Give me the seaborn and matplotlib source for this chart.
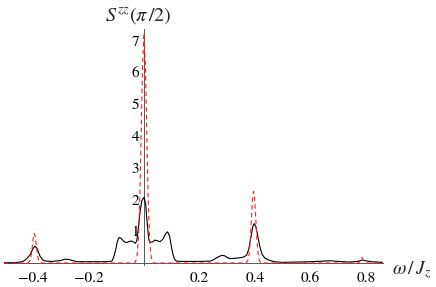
import numpy as np
import pandas as pd
import seaborn as sns
import matplotlib
matplotlib.use("Agg")
import matplotlib.pyplot as plt
from matplotlib.ticker import MultipleLocator, FixedLocator, FuncFormatter

# ---- data ----
black_x = [-0.505, -0.465, -0.44, -0.43, -0.42, -0.41, -0.40, -0.393, -0.385, -0.375,
           -0.365, -0.355, -0.33, -0.30, -0.285, -0.27, -0.255, -0.24, -0.20, -0.15,
           -0.12, -0.114, -0.108, -0.102, -0.096, -0.09, -0.083, -0.075, -0.068, -0.06,
           -0.052, -0.045, -0.038, -0.031, -0.026, -0.021, -0.015, -0.008, 0.0, 0.006,
           0.012, 0.017, 0.021, 0.03, 0.039, 0.048, 0.058, 0.068, 0.078, 0.085,
           0.092, 0.098, 0.104, 0.11, 0.117, 0.13, 0.20, 0.238, 0.25, 0.265,
           0.28, 0.29, 0.30, 0.31, 0.33, 0.35, 0.36, 0.37, 0.378, 0.385,
           0.392, 0.397, 0.403, 0.41, 0.418, 0.425, 0.435, 0.45, 0.47, 0.50,
           0.55, 0.60, 0.65, 0.67, 0.70, 0.74, 0.77, 0.785, 0.80, 0.82, 0.86]
black_y = [0.01, 0.01, 0.04, 0.08, 0.16, 0.27, 0.45, 0.53, 0.45, 0.22,
           0.10, 0.06, 0.05, 0.08, 0.12, 0.11, 0.07, 0.04, 0.04, 0.04,
           0.05, 0.08, 0.22, 0.42, 0.68, 0.80, 0.78, 0.70, 0.65, 0.65,
           0.68, 0.69, 0.66, 0.62, 0.70, 1.05, 1.55, 1.95, 2.07, 1.85,
           1.20, 0.75, 0.65, 0.66, 0.72, 0.70, 0.67, 0.75, 0.92, 0.98,
           0.85, 0.55, 0.28, 0.12, 0.06, 0.05, 0.05, 0.06, 0.10, 0.18,
           0.24, 0.23, 0.17, 0.14, 0.15, 0.17, 0.19, 0.25, 0.45, 0.80,
           1.15, 1.24, 1.15, 0.85, 0.50, 0.28, 0.16, 0.09, 0.04, 0.02,
           0.03, 0.04, 0.06, 0.07, 0.05, 0.03, 0.05, 0.09, 0.07, 0.04, 0.02]

red_x = [-0.505, -0.417, -0.411, -0.407, -0.403, -0.399, -0.395, -0.391, -0.387, -0.383,
         -0.379, -0.373, -0.035, -0.03, -0.025, -0.02, -0.015, -0.01, -0.005, 0.0,
         0.005, 0.01, 0.015, 0.02, 0.025, 0.03, 0.035, 0.369, 0.375, 0.379,
         0.383, 0.387, 0.391, 0.395, 0.399, 0.403, 0.407, 0.411, 0.415, 0.421,
         0.772, 0.775, 0.78, 0.785, 0.79, 0.795, 0.798, 0.86]
red_y = [0.0, 0.0, 0.07, 0.21, 0.48, 0.79, 0.93, 0.79, 0.48, 0.21,
         0.07, 0.0, 0.0, 0.05, 0.23, 0.78, 2.07, 4.14, 6.27, 7.2,
         6.27, 4.14, 2.07, 0.78, 0.23, 0.05, 0.0, 0.0, 0.10, 0.30,
         0.73, 1.36, 1.99, 2.25, 1.99, 1.36, 0.73, 0.30, 0.10, 0.0,
         0.0, 0.02, 0.10, 0.18, 0.10, 0.02, 0.0, 0.0]

x_ticks = [-0.4, -0.2, 0.2, 0.4, 0.6, 0.8]
y_ticks = [1, 2, 3, 4, 5, 6, 7]
y_label = r"$S^{zz}(\pi\,/2)$"
x_label = r"$\omega\,/\,J_z$"

sns.set_style("white")
plt.rcParams["font.family"] = ["STIXGeneral", "DejaVu Serif"]
plt.rcParams["mathtext.fontset"] = "stix"

W, H = 436, 287
fig = plt.figure(figsize=(W / 100, H / 100), dpi=100)
xlim = (-0.505, 0.86)
ylim = (-0.05, 7.35)
x0_px, xscale = 144.0, 277.5
y0_px, yscale = 263.0, 31.8
left = x0_px + xlim[0] * xscale
right = x0_px + xlim[1] * xscale
bottom = y0_px - ylim[0] * yscale
top = y0_px - ylim[1] * yscale
ax = fig.add_axes([left / W, 1 - bottom / H, (right - left) / W, (bottom - top) / H])

df_b = pd.DataFrame({"x": black_x, "y": black_y})
df_r = pd.DataFrame({"x": red_x, "y": red_y})
sns.lineplot(data=df_b, x="x", y="y", ax=ax, color="black", lw=0.8, estimator=None, zorder=3)
sns.lineplot(data=df_r, x="x", y="y", ax=ax, color="#ff1a1a", lw=0.8, estimator=None, zorder=4)
ax.lines[-1].set_dashes((4, 3))

ax.set_xlim(*xlim)
ax.set_ylim(*ylim)
ax.set_xlabel("")
ax.set_ylabel("")
for s in ["top", "right"]:
    ax.spines[s].set_visible(False)
ax.spines["left"].set_position(("data", 0))
ax.spines["bottom"].set_position(("data", 0))
for s in ["left", "bottom"]:
    ax.spines[s].set_color("#555555")
    ax.spines[s].set_linewidth(0.7)

ax.xaxis.set_major_locator(FixedLocator(x_ticks))
ax.xaxis.set_minor_locator(MultipleLocator(0.05))
ax.yaxis.set_major_locator(FixedLocator(y_ticks))
ax.yaxis.set_minor_locator(MultipleLocator(0.2))
ax.xaxis.set_major_formatter(FuncFormatter(lambda v, p: f"{v:.1f}".replace("-", "\u2212")))
ax.yaxis.set_major_formatter(FuncFormatter(lambda v, p: f"{int(round(v))}"))
ax.tick_params(axis="x", which="major", direction="in", length=3.2, width=0.6, color="#888888",
               pad=6.5, labelsize=11, labelcolor="black")
ax.tick_params(axis="x", which="minor", direction="in", length=1.8, width=0.5, color="#888888")
ax.tick_params(axis="y", which="major", direction="in", length=3.2, width=0.6, color="#888888",
               pad=3.5, labelsize=11, labelcolor="black")
ax.tick_params(axis="y", which="minor", direction="in", length=1.8, width=0.5, color="#888888")
ax.set_facecolor("none")
ax.grid(False)

fig.text(105 / W, 1 - 16 / H, y_label, ha="left", va="center", fontsize=14.5)
fig.text(392 / W, 1 - 270 / H, x_label, ha="left", va="center", fontsize=14)

fig.savefig("out.png", dpi=100)
